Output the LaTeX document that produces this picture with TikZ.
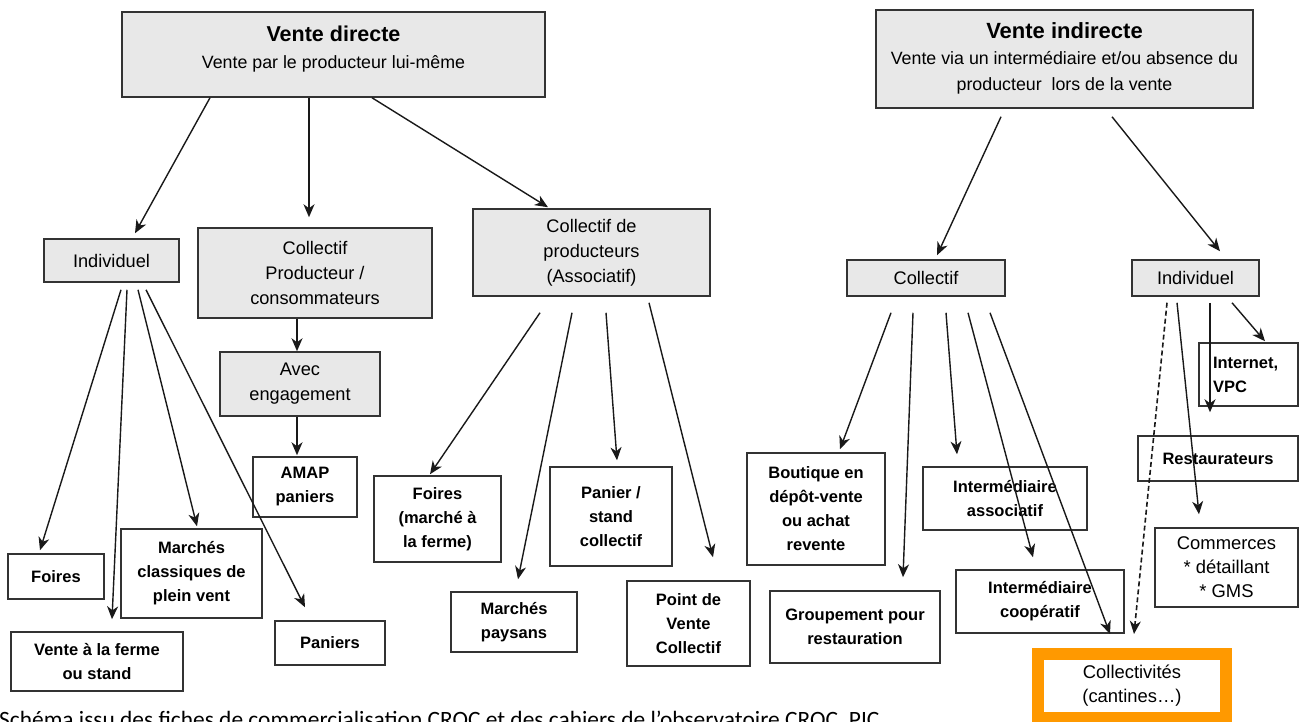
\documentclass[tikz,border=0pt]{standalone}
\usepackage{fontspec}
\setmainfont{Liberation Sans}
\newfontfamily\capfont{Carlito}
\usetikzlibrary{arrows.meta}
\definecolor{boxgray}{HTML}{E8E8E8}
\definecolor{boxline}{HTML}{333333}
\definecolor{orng}{HTML}{FF9900}
\tikzset{
  x=1pt, y=-1pt,
  basebox/.style={draw=boxline, line width=1.5pt, inner sep=2pt, align=center, anchor=center},
  graybox/.style={basebox, fill=boxgray, font=\fontsize{18.2}{25}\selectfont},
  whitebox/.style={basebox, fill=white, font=\fontsize{16.5}{24}\selectfont\bfseries},
  plainbox/.style={basebox, fill=white, font=\fontsize{18.4}{24}\selectfont},
  arr/.style={line width=1.4pt, draw=black!90, -{Stealth[length=13pt,width=11pt,inset=4pt]}},
  dasharr/.style={arr, line width=1.6pt, dash pattern=on 5pt off 3pt},
}
\begin{document}
\begin{tikzpicture}
\useasboundingbox (0,0) rectangle (1303,722);
\clip (0,0) rectangle (1303,722);

% top boxes
\node[graybox, minimum width=423pt, minimum height=85pt] (VD) at (333.5,54.5) {};
\node[font=\fontsize{17.8}{27}\selectfont, align=center, inner sep=0pt] (VDt) at (333.5,49)
  {{\fontsize{21.5}{27}\selectfont\bfseries Vente directe}\\Vente par le producteur lui-même};
\node[graybox, minimum width=377pt, minimum height=98pt] (VI) at (1064.5,59) {};
\node[font=\fontsize{17.8}{26}\selectfont, align=center, inner sep=0pt] (VIt) at (1064.5,58)
  {{\fontsize{22}{27}\selectfont\bfseries Vente indirecte}\\Vente via un intermédiaire et/ou absence du\\producteur\ \ lors de la vente};

% second level
\node[graybox, minimum width=135pt, minimum height=43pt] (indL) at (111.5,260.5) {Individuel};
\node[graybox, minimum width=234pt, minimum height=90pt] (colPC) at (315,273) {Collectif\\Producteur /\\consommateurs};
\node[graybox, minimum width=160pt, minimum height=64pt] (avec) at (300,384) {Avec\\engagement};
\node[graybox, minimum width=237pt, minimum height=87pt] (colProd) at (591.5,252.5) {Collectif de\\producteurs\\(Associatif)};
\node[graybox, minimum width=158pt, minimum height=36pt] (colR) at (926,278) {Collectif};
\node[graybox, minimum width=127pt, minimum height=36pt] (indR) at (1195.5,278) {Individuel};

% leaves
\node[whitebox, minimum width=104pt, minimum height=60pt] (amap) at (305,487) {AMAP\\paniers};
\node[whitebox, minimum width=96pt, minimum height=45pt] (foiresL) at (56,576.5) {Foires};
\node[whitebox, minimum width=172pt, minimum height=59pt] (ferme) at (97,661.5) {Vente à la ferme\\ou stand};
\node[whitebox, minimum width=141pt, minimum height=89pt] (marchesC) at (191.5,573.5) {Marchés\\classiques de\\plein vent};
\node[whitebox, minimum width=110pt, minimum height=44pt] (paniers) at (330,643) {Paniers};
\node[whitebox, minimum width=127pt, minimum height=86pt] (foiresM) at (437.5,519) {Foires\\(marché à\\la ferme)};
\node[whitebox, minimum width=126pt, minimum height=60pt] (marchesP) at (514,622) {Marchés\\paysans};
\node[whitebox, minimum width=122pt, minimum height=99pt] (panier) at (611,516.5) {Panier /\\stand\\collectif};
\node[whitebox, minimum width=123pt, minimum height=85pt] (pvc) at (688.5,623.5) {Point de\\Vente\\Collectif};
\node[whitebox, minimum width=138pt, minimum height=112pt] (boutique) at (816,509) {Boutique en\\dépôt-vente\\ou achat\\revente};
\node[whitebox, minimum width=170pt, minimum height=72pt] (groupement) at (855,627) {Groupement pour\\restauration};
\node[whitebox, minimum width=164pt, minimum height=63pt] (interA) at (1005,498.5) {Intermédiaire\\associatif};
\node[whitebox, minimum width=168pt, minimum height=63pt] (interC) at (1040,601.5) {Intermédiaire\\coopératif};
\node[whitebox, minimum width=99pt, minimum height=63pt, text width=71pt, inner xsep=14pt, align=left] (inet) at (1248.5,374.5) {Internet,\\VPC};
\node[whitebox, minimum width=160pt, minimum height=45pt] (resto) at (1218,458.5) {Restaurateurs};
\node[plainbox, minimum width=143pt, minimum height=79pt] (comm) at (1226.5,567.5) {Commerces\\* détaillant\\* GMS};
\node[plainbox, draw=orng, line width=12pt, minimum width=188pt, minimum height=64pt] (colv) at (1132,686) {Collectivités\\(cantines…)};

% arrows from Vente directe
\draw[arr] ([shift={(-123.5,0)}]VD.south) -- ([shift={(23.5,-5)}]indL.north);
\draw[arr] ([shift={(-24.5,0)}]VD.south) -- ([shift={(-6,-10)}]colPC.north);
\draw[arr] ([shift={(38.5,0)}]VD.south) -- ([shift={(-43.5,-1)}]colProd.north);

% arrows from Vente indirecte
\draw[arr] ([shift={(-63.5,8)}]VI.south) -- ([shift={(11,-4)}]colR.north);
\draw[arr] ([shift={(47.5,8)}]VI.south) -- ([shift={(24.5,-8)}]indR.north);

% Individuel (left)
\draw[arr] ([shift={(9.5,7)}]indL.south) -- ([shift={(-16,-3)}]foiresL.north);
\draw[arr] ([shift={(15.5,7)}]indL.south) -- ([shift={(15,-12)}]ferme.north);
\draw[arr] ([shift={(26.5,7)}]indL.south) -- ([shift={(5.5,-2)}]marchesC.north);
\draw[arr] ([shift={(34.5,7)}]indL.south) -- ([shift={(-25,-13)}]paniers.north);

% Collectif producteur / consommateurs
\draw[arr] ([shift={(-18,0)}]colPC.south) -- ([shift={(-3,0)}]avec.north);
\draw[arr] ([shift={(-3,0)}]avec.south) -- ([shift={(-8,-1)}]amap.north);

% Collectif de producteurs
\draw[arr] ([shift={(-51.5,16)}]colProd.south) -- ([shift={(-7.5,-1)}]foiresM.north);
\draw[arr] ([shift={(-19.5,16)}]colProd.south) -- ([shift={(4,-12)}]marchesP.north);
\draw[arr] ([shift={(14.5,16)}]colProd.south) -- ([shift={(6,-6)}]panier.north);
\draw[arr] ([shift={(57.5,6)}]colProd.south) -- ([shift={(24.5,-23)}]pvc.north);

% Collectif (right)
\draw[arr] ([shift={(-35,16)}]colR.south) -- ([shift={(24,-3)}]boutique.north);
\draw[arr] ([shift={(-13,16)}]colR.south) -- ([shift={(48,-13)}]groupement.north);
\draw[arr] ([shift={(20,16)}]colR.south) -- ([shift={(-48,-12)}]interA.north);
\draw[arr] ([shift={(42,16)}]colR.south) -- ([shift={(-7,-12)}]interC.north);
\draw[arr] ([shift={(64,16)}]colR.south) -- ([shift={(-22,-14)}]colv.north);

% Individuel (right)
\draw[dasharr] ([shift={(-28.5,6)}]indR.south) -- ([shift={(2,-14)}]colv.north);
\draw[arr] ([shift={(-18.5,6)}]indR.south) -- ([shift={(-27.5,-13)}]comm.north);
\draw[arr] ([shift={(14.5,6)}]indR.south) -- ([shift={(-8,-23)}]resto.north);
\draw[arr] ([shift={(36.5,6)}]indR.south) -- ([shift={(16.5,-1)}]inet.north);

% caption (cut by the lower edge)
\node[font=\capfont\fontsize{23.4}{27}\selectfont, anchor=base west, inner sep=0pt] (cap) at (-1,727.5)
  {Schéma issu des fiches de commercialisation CROC et des cahiers de l’observatoire CROC, PIC};
\end{tikzpicture}
\end{document}
